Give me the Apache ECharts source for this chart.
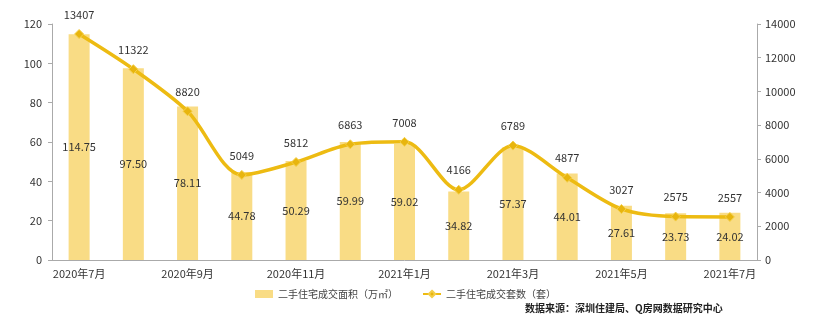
<!DOCTYPE html>
<html>
<head>
<meta charset="utf-8">
<script src="https://cdn.jsdelivr.net/npm/echarts@6/dist/echarts.min.js"></script>
<style>
html,body{margin:0;padding:0;background:#fff;}
#chart{width:832px;height:329px;}
</style>
</head>
<body>
<div id="chart"></div>
<script>
const months = ['2020年7月','2020年8月','2020年9月','2020年10月','2020年11月','2020年12月','2021年1月','2021年2月','2021年3月','2021年4月','2021年5月','2021年6月','2021年7月'];
const areaValues = [114.75, 97.50, 78.11, 44.78, 50.29, 59.99, 59.02, 34.82, 57.37, 44.01, 27.61, 23.73, 24.02];
const unitValues = [13407, 11322, 8820, 5049, 5812, 6863, 7008, 4166, 6789, 4877, 3027, 2575, 2557];
const areaName = '二手住宅成交面积（万㎡）';
const unitName = '二手住宅成交套数（套）';
const sourceText = '数据来源：深圳住建局、Q房网数据研究中心';

const font = '"Microsoft YaHei","Noto Sans CJK SC",sans-serif';
const chart = echarts.init(document.getElementById('chart'), null, {renderer:'canvas'});
chart.setOption({
  animation:false,
  textStyle:{fontFamily:font},
  grid:{left:52,right:75,top:24,bottom:69},
  legend:{
    bottom:25,left:250,itemGap:24,itemWidth:18,itemHeight:8,
    textStyle:{fontSize:10,color:'#444',fontFamily:font},
    data:[{name:areaName,icon:'rect'},{name:unitName}]
  },
  graphic:[{type:'text',left:525,top:303,style:{text:sourceText,font:'bold 10px '+font,fill:'#222'}}],
  xAxis:{
    type:'category',data:months,boundaryGap:true,
    axisLine:{lineStyle:{color:'#aaa'}},
    axisTick:{interval:1,length:4,lineStyle:{color:'#aaa'}},
    axisLabel:{interval:1,color:'#333',fontSize:11,margin:8}
  },
  yAxis:[
    {type:'value',min:0,max:120,interval:20,
     axisLine:{show:true,lineStyle:{color:'#aaa'}},
     axisTick:{show:true,length:4,lineStyle:{color:'#aaa'}},
     splitLine:{show:false},
     axisLabel:{color:'#333',fontSize:11,margin:10}},
    {type:'value',min:0,max:14000,interval:2000,
     axisLine:{show:true,lineStyle:{color:'#aaa'}},
     axisTick:{show:true,length:4,lineStyle:{color:'#aaa'}},
     splitLine:{show:false},
     axisLabel:{color:'#333',fontSize:11,margin:8,formatter:v=>String(v)}}
  ],
  series:[
    {name:areaName,type:'bar',data:areaValues,barWidth:21,
     itemStyle:{color:'#F9DC85'},
     label:{show:true,position:'inside',color:'#333',fontSize:11,
            formatter:p=>p.value.toFixed(2)}},
    {name:unitName,type:'line',yAxisIndex:1,data:unitValues,smooth:0.3,
     symbol:'diamond',symbolSize:9,
     lineStyle:{color:'#EDBB12',width:3.5},
     itemStyle:{color:'#E8B50E',borderColor:'#F4CF4A',borderWidth:1},
     label:{show:true,position:'top',distance:9,color:'#333',fontSize:11}}
  ]
});
</script>
</body>
</html>
